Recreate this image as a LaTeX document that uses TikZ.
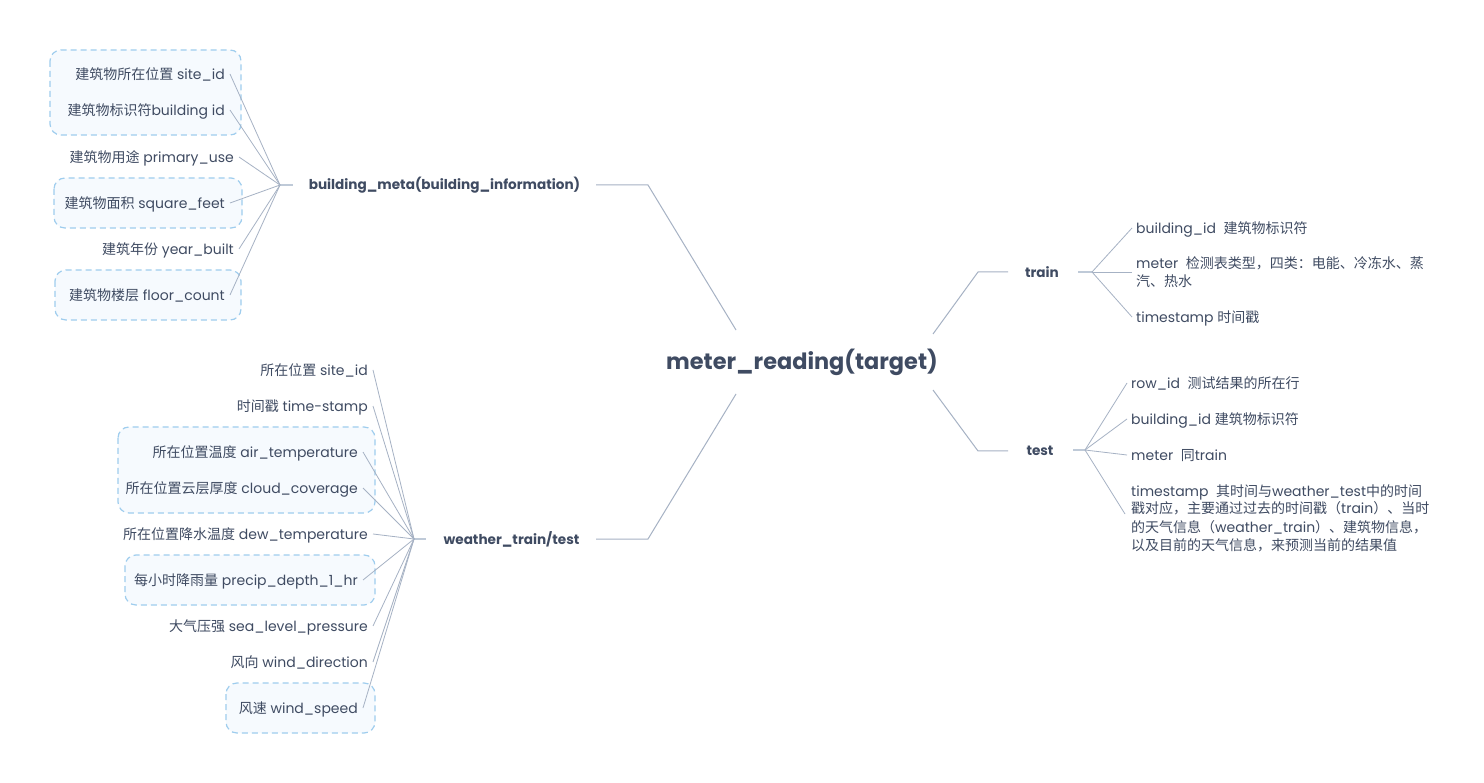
\documentclass[tikz,border=0pt]{standalone}
\usepackage{fontspec}
\setmainfont{Poppins}
\newfontfamily\zhfont{Noto Sans CJK SC}
\newfontfamily\enfont{Poppins}
\XeTeXinterchartokenstate=1
\newXeTeXintercharclass\CJKcls
\newcount\cjkc
\cjkc="4E00 \loop\ifnum\cjkc<"A000 \XeTeXcharclass\cjkc=\CJKcls \advance\cjkc by 1 \repeat
\cjkc="3000 \loop\ifnum\cjkc<"3040 \XeTeXcharclass\cjkc=\CJKcls \advance\cjkc by 1 \repeat
\cjkc="FF00 \loop\ifnum\cjkc<"FFF0 \XeTeXcharclass\cjkc=\CJKcls \advance\cjkc by 1 \repeat
\XeTeXinterchartoks 0 \CJKcls = {\zhfont}
\XeTeXinterchartoks 4095 \CJKcls = {\zhfont}
\XeTeXinterchartoks \CJKcls 0 = {\enfont}
\XeTeXinterchartoks \CJKcls 4095 = {\enfont}
\definecolor{txt}{HTML}{3F4B62}
\definecolor{linec}{HTML}{A6B2C4}
\definecolor{stubc}{HTML}{BFCAD8}
\definecolor{boxc}{HTML}{9FCDEE}
\definecolor{boxf}{HTML}{F6FAFE}
\tikzset{
  leaf/.style={font=\fontsize{14}{18}\selectfont, text=txt, inner sep=0pt, text height=10.5pt, text depth=0pt},
  leafL/.style={leaf, anchor=east, align=right},
  leafR/.style={leaf, anchor=west, align=left},
  leafM/.style={font=\fontsize{14}{18}\selectfont, text=txt, inner sep=0pt, anchor=base west, align=left},
  topic/.style={font=\fontsize{13.6}{18}\selectfont\bfseries, text=txt, inner sep=0pt},
  rootnode/.style={font=\fontsize{22.4}{26}\selectfont\bfseries, text=txt, inner sep=0pt},
  grp/.style={draw=boxc, fill=boxf, dash pattern=on 6pt off 4pt, rounded corners=11pt, line width=1.2pt},
  link/.style={draw=linec, line width=0.8pt},
  stub/.style={draw=stubc, line width=2pt},
  branch/.style={draw=linec, line width=1pt},
}
\begin{document}
\begin{tikzpicture}[x=1pt,y=-1pt]
\fill[white] (0,0) rectangle (1484,783);
\path[use as bounding box] (0,0) rectangle (1484,783);
% group frames
\draw[grp] (50,50) rectangle (241,135);
\draw[grp] (54,178) rectangle (242,228);
\draw[grp] (55,270) rectangle (241,320);
\draw[grp] (118,427) rectangle (375,513);
\draw[grp] (125,555) rectangle (375,605);
\draw[grp] (226,683) rectangle (375,733);
% root
\node[rootnode] (root) at (802,362) {meter\_reading(target)};
% topics
\node[topic] (bm) at (444.5,185) {building\_meta(building\_information)};
\node[topic] (wt) at (511.5,539) {weather\_train/test};
\node[topic] (tr) at (1042,272) {train};
\node[topic] (te) at (1040,451) {test};
% junctions and branch corners
\coordinate (jb) at (280,185);
\coordinate (jw) at (414,539);
\coordinate (jt) at (1092,272);
\coordinate (js) at (1085,450);
\coordinate (r1) at (736,330);
\coordinate (r2) at (736,394);
\coordinate (r3) at (933,334);
\coordinate (r4) at (933,390);
\coordinate (c1) at (648,185);
\coordinate (c2) at (648,539);
\coordinate (c3) at (978,272);
\coordinate (c4) at (978,451);
\coordinate (e1) at (596,185);
\coordinate (e2) at (596,539);
\coordinate (e3) at (1008,272);
\coordinate (e4) at (1008,451);
\draw[branch] (r1) -- (c1) -- (e1);
\draw[branch] (r2) -- (c2) -- (e2);
\draw[branch] (r3) -- (c3) -- (e3);
\draw[branch] (r4) -- (c4) -- (e4);
\draw[stub] (jb) -- ++(13,0);
\draw[stub] (jw) -- ++(12,0);
\draw[stub] (jt) -- ++(-14,0);
\draw[stub] (js) -- ++(-12,0);
% building children
\node[leafL] (b1) at (225,74) {建筑物所在位置 site\_id};
\node[leafL] (b2) at (225,110) {建筑物标识符building id};
\node[leafL] (b3) at (234,157) {建筑物用途 primary\_use};
\node[leafL] (b4) at (225,203) {建筑物面积 square\_feet};
\node[leafL] (b5) at (234,249) {建筑年份 year\_built};
\node[leafL] (b6) at (225,295) {建筑物楼层 floor\_count};
\foreach \n in {b1,b2,b3,b4,b5,b6} \draw[link] (jb) -- ([xshift=5pt]\n.east);
% weather children
\node[leafL] (w1) at (368,370) {所在位置 site\_id};
\node[leafL] (w2) at (368,406) {时间戳 time-stamp};
\node[leafL] (w3) at (358,452) {所在位置温度 air\_temperature};
\node[leafL] (w4) at (358,488) {所在位置云层厚度 cloud\_coverage};
\node[leafL] (w5) at (368,534) {所在位置降水温度 dew\_temperature};
\node[leafL] (w6) at (358,580) {每小时降雨量 precip\_depth\_1\_hr};
\node[leafL] (w7) at (368,626) {大气压强 sea\_level\_pressure};
\node[leafL] (w8) at (368,662) {风向 wind\_direction};
\node[leafL] (w9) at (358,708) {风速 wind\_speed};
\foreach \n in {w1,w2,w3,w4,w5,w6,w7,w8,w9} \draw[link] (jw) -- ([xshift=5pt]\n.east);
% train children
\node[leafR] (t1) at (1136,228) {building\_id\ \ 建筑物标识符};
\node[leafM] (t2) at (1136,287) {meter\ \ 检测表类型，四类：电能、冷冻水、蒸\\汽、热水};
\node[leafR] (t3) at (1136,317) {timestamp 时间戳};
\draw[link] (jt) -- ([xshift=-4pt]t1.west);
\draw[link] (jt) -- ([xshift=-4pt,yshift=15pt]t2.base west);
\draw[link] (jt) -- ([xshift=-4pt]t3.west);
% test children
\node[leafR] (s1) at (1131,383) {row\_id\ \ 测试结果的所在行};
\node[leafR] (s2) at (1131,419) {building\_id 建筑物标识符};
\node[leafR] (s3) at (1131,455) {meter\ \ 同train};
\node[leafM] (s4) at (1131,550) {timestamp\ \ 其时间与weather\_test中的时间\\戳对应，主要通过过去的时间戳（train）、当时\\的天气信息（weather\_train）、建筑物信息，\\以及目前的天气信息，来预测当前的结果值};
\foreach \n in {s1,s2,s3} \draw[link] (js) -- ([xshift=-4pt]\n.west);
\draw[link] (js) -- ([xshift=-6pt,yshift=36pt]s4.base west);
\end{tikzpicture}
\end{document}
